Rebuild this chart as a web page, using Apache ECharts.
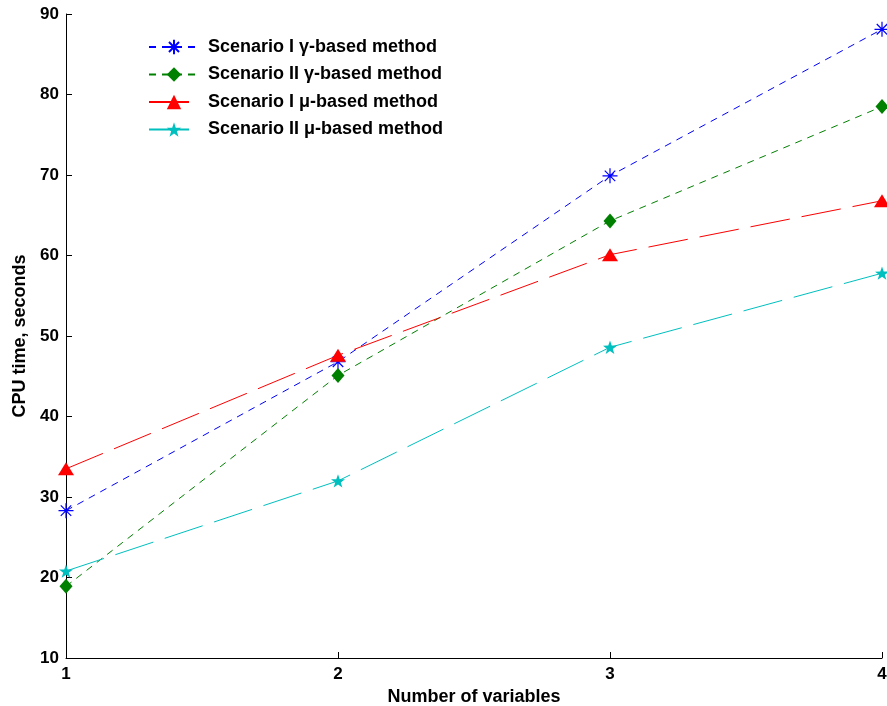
<!DOCTYPE html>
<html>
<head>
<meta charset="utf-8">
<script src="https://cdn.jsdelivr.net/npm/echarts@6/dist/echarts.min.js"></script>
<style>
  html, body { margin: 0; padding: 0; background: #fff; }
  #chart { width: 887px; height: 706px; }
</style>
</head>
<body>
<div id="chart"></div>
<script>
// Number of variables on the x axis
const categories = ['1', '2', '3', '4'];
const yTicks = { min: 10, max: 90, step: 10 };

// CPU time (seconds) per method
const scenarioIGamma  = [28.3, 46.8, 69.9, 88.1];
const scenarioIIGamma = [18.9, 45.1, 64.3, 78.5];
const scenarioIMu     = [33.5, 47.6, 60.1, 66.8];
const scenarioIIMu    = [20.8, 32.0, 48.6, 57.8];

const seriesNames = [
  'Scenario I \u03b3-based method',
  'Scenario II \u03b3-based method',
  'Scenario I \u03bc-based method',
  'Scenario II \u03bc-based method'
];

const FONT = '"Liberation Sans", Arial, Helvetica, sans-serif';

// marker shapes
const asterisk = 'path://M0,-10L0,10M-10,0L10,0M-7,-7L7,7M-7,7L7,-7';
const pentagram = 'path://M0,-100L23.5,-32.4L95.1,-30.9L38,12.4L58.8,80.9L0,40L-58.8,80.9L-38,12.4L-95.1,-30.9L-23.5,-32.4Z';

function lineSeries(name, data, color, dash, symbol, size, stroke) {
  return {
    name: name,
    type: 'line',
    data: data,
    symbol: symbol,
    symbolSize: size,
    symbolKeepAspect: true,
    showAllSymbol: true,
    lineStyle: { color: color, width: 1, type: dash },
    itemStyle: stroke
      ? { color: color, borderColor: color, borderWidth: 1.2 }
      : { color: color, borderWidth: 0 },
    emphasis: { disabled: true },
    animation: false
  };
}

const chart = echarts.init(document.getElementById('chart'), null, { renderer: 'canvas' });

chart.setOption({
  backgroundColor: '#fff',
  animation: false,
  grid: { left: 66, right: 5, top: 14, bottom: 48, containLabel: false, outerBoundsMode: 'none' },
  legend: {
    orient: 'vertical',
    left: 143,
    top: 33,
    itemWidth: 50,
    itemHeight: 18,
    itemGap: 9.5,
    textStyle: { fontFamily: FONT, fontWeight: 'bold', fontSize: 18, color: '#000', lineHeight: 18, padding: [0, 0, 0, 4] },
    data: seriesNames
  },
  xAxis: {
    type: 'category',
    data: categories,
    boundaryGap: false,
    name: 'Number of variables',
    nameLocation: 'middle',
    nameGap: 23,
    nameTextStyle: { fontFamily: FONT, fontWeight: 'bold', fontSize: 18, color: '#000' },
    axisLine: { lineStyle: { color: '#000', width: 1 } },
    axisTick: { inside: true, length: 6, alignWithLabel: true, lineStyle: { color: '#000' } },
    axisLabel: { fontFamily: FONT, fontWeight: 'bold', fontSize: 17, color: '#000', margin: 8 },
    splitLine: { show: false }
  },
  yAxis: {
    type: 'value',
    min: yTicks.min,
    max: yTicks.max,
    interval: yTicks.step,
    name: 'CPU time, seconds',
    nameLocation: 'middle',
    nameGap: 34,
    nameTextStyle: { fontFamily: FONT, fontWeight: 'bold', fontSize: 18, color: '#000' },
    axisLine: { show: true, lineStyle: { color: '#000', width: 1 } },
    axisTick: { show: true, inside: true, length: 6, lineStyle: { color: '#000' } },
    axisLabel: { fontFamily: FONT, fontWeight: 'bold', fontSize: 17, color: '#000', margin: 7 },
    splitLine: { show: false }
  },
  series: [
    lineSeries(seriesNames[0], scenarioIGamma, '#0000ff', [7, 6], asterisk, 15, true),
    lineSeries(seriesNames[1], scenarioIIGamma, '#008000', [7, 6], 'diamond', [13, 15], false),
    lineSeries(seriesNames[2], scenarioIMu, '#ff0000', [40, 12], 'triangle', [16, 13], false),
    lineSeries(seriesNames[3], scenarioIIMu, '#00bfbf', [40, 12], pentagram, 14, false)
  ]
});
</script>
</body>
</html>
